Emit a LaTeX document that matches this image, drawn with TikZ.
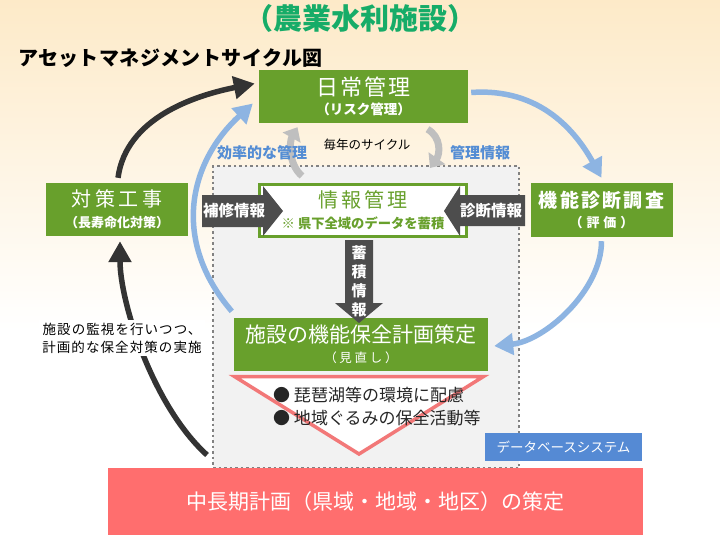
\documentclass[tikz,border=0pt]{standalone}
\usepackage{fontspec}
\setmainfont{Noto Sans CJK JP}
\usetikzlibrary{arrows.meta,calc}
\definecolor{boxgreen}{RGB}{104,160,44}
\definecolor{titlegreen}{RGB}{22,172,104}
\definecolor{arrowgray}{RGB}{77,77,77}
\definecolor{lineblue}{RGB}{141,180,226}
\definecolor{textblue}{RGB}{84,141,212}
\definecolor{dbblue}{RGB}{85,138,212}
\definecolor{bandred}{RGB}{255,110,110}
\definecolor{trired}{RGB}{242,120,120}
\definecolor{cyclegray}{RGB}{191,191,191}
\definecolor{darkline}{RGB}{51,51,51}
\definecolor{regionfill}{RGB}{242,242,242}
\definecolor{dotgray}{RGB}{130,130,130}
\definecolor{bgtop}{RGB}{253,234,200}
\newcommand\fsz[2]{\fontsize{#1}{#2}\selectfont}
\newcommand\ls[1]{\addfontfeatures{LetterSpace=#1}}
\tikzset{greenbox/.style={fill=boxgreen,text=white,inner sep=0pt,align=center}}
\tikzset{arrowtext/.style={text=white,font=\bfseries\fsz{15.5}{19},inner sep=0pt,align=center}}
\tikzset{bluelabel/.style={text=textblue,inner sep=0pt,font=\bfseries\fsz{15}{15}}}
\tikzset{bluearc/.style={line width=5.5pt,draw=lineblue,-{Triangle[width=21pt,length=19pt]}}}
\tikzset{blackarc/.style={line width=5.5pt,draw=darkline,-{Triangle[width=22pt,length=21pt]}}}
\tikzset{grayarc/.style={line width=7pt,draw=cyclegray,-{Triangle[width=20pt,length=12pt]}}}

\begin{document}
\begin{tikzpicture}[x=1pt,y=-1pt]
	\useasboundingbox (0,0) rectangle (720,544);
	\fill[white] (0,0) rectangle (720,544);
	\shade[top color=bgtop,bottom color=white] (0,0) rectangle (720,330);

	\node[text=titlegreen,font=\bfseries\fsz{29}{29}] (title) at (360,18) {（農業水利施設）};
	\node[anchor=west,inner sep=0pt,font=\bfseries\fsz{20}{20}\ls{2}] (cyclettl) at (18,58) {アセットマネジメントサイクル図};

	% database area
	\node[fill=regionfill,draw=dotgray,line width=2.5pt,dash pattern=on 2.5pt off 3pt,minimum width=306pt,minimum height=302pt] (dbarea) at (366,317) {};

	\node[greenbox,minimum width=209pt,minimum height=53pt,font=\fsz{13}{18.6}] (nichijo) at (363.5,96.5)
		{{\fsz{22}{22}\ls{9}日常管理}\\{\bfseries\fsz{13.5}{13.5}（リスク管理）}};
	\node[greenbox,minimum width=142pt,minimum height=53pt,font=\fsz{13}{21}] (taisaku) at (117,209.5)
		{{\fsz{20}{20}\ls{18}対策工事}\\{\bfseries\fsz{13}{13}（長寿命化対策）}};
	\node[greenbox,minimum width=142pt,minimum height=54pt,font=\fsz{13}{20.7}] (kino) at (601.5,210)
		{{\bfseries\fsz{19}{19}\ls{12}機能診断調査}\\{\bfseries\fsz{13}{13}\ls{30}（評価）}};
	\node[fill=white,draw=boxgreen,line width=3pt,text=boxgreen,inner sep=0pt,align=center,
		minimum width=207pt,minimum height=52pt,font=\fsz{13}{21.3}] (joho) at (363,210.5)
		{{\fsz{20}{20}\ls{15}情報管理}\\{\bfseries\fsz{13.3}{13.3}※ 県下全域のデータを蓄積}};
	\node[greenbox,minimum width=254pt,minimum height=53pt,font=\fsz{12}{19.6}] (keikaku) at (361,344)
		{{\fsz{21}{21}施設の機能保全計画策定}\\{\fsz{12.5}{12.5}\ls{22}（見直し）}};

	% inverted triangle
	\coordinate (tritip) at (359,454);
	\draw[line width=3.5pt,draw=trired,fill=white] ([xshift=1pt,yshift=-6pt]keikaku.south west)
		-- ([xshift=-5pt,yshift=-6pt]keikaku.south east) -- (tritip) -- cycle;
	\node[anchor=west,align=left,inner sep=0pt,text=black!85,font=\fsz{17}{23}] (bullets) at (273,406.5)
		{● 琵琶湖等の環境に配慮\\● 地域ぐるみの保全活動等};

	% block arrows
	\fill[arrowgray] (202,195) -- (263,195) -- (263,186) -- (283,211) -- (263,236) -- (263,227) -- (202,227) -- cycle;
	\node[arrowtext] (hoshu) at (234,211) {補修情報};
	\fill[arrowgray] (525,195) -- (460,195) -- (460,186) -- (444,211) -- (460,236) -- (460,226) -- (525,226) -- cycle;
	\node[arrowtext] (shindan) at (491,211) {診断情報};
	\fill[arrowgray] (345,240) -- (373,240) -- (373,303) -- (383,303) -- (359,323) -- (335,303) -- (345,303) -- cycle;
	\node[arrowtext,font=\bfseries\fsz{15}{19}] (chikuseki) at (359,281.5) {蓄\\積\\情\\報};

	\node[fill=bandred,text=white,inner sep=0pt,minimum width=535pt,minimum height=67pt,font=\fsz{21}{21}] (plan) at (375.5,501.5)
		{中長期計画（県域・地域・地区）の策定\hspace{14pt}};
	\node[fill=dbblue,text=white,inner sep=0pt,minimum width=157pt,minimum height=28pt,font=\fsz{13.5}{13.5}] (db) at (563.5,447)
		{データベースシステム};

	% yearly cycle
	\draw[grayarc] ([xshift=-61pt,yshift=7pt]joho.north) .. controls +(-14,-12) and +(-8,14) .. ([xshift=-66pt,yshift=-4pt]nichijo.south);
	\draw[grayarc] ([xshift=64pt,yshift=-6pt]nichijo.south) .. controls +(14,8) and +(10,-14) .. ([xshift=67pt,yshift=15pt]joho.north);
	\node[inner sep=0pt,font=\fsz{12.5}{12.5}] (maitoshi) at (367,145) {毎年のサイクル};
	\node[bluelabel] (koritsu) at (262,153) {効率的な管理};
	\node[bluelabel] (kanrijoho) at (480,153) {管理情報};

	% outer cycle
	\draw[bluearc] ([xshift=3pt,yshift=4pt]nichijo.east) .. controls +(70,-5) and +(-25,-45) .. ([yshift=5pt]kino.north);
	\draw[bluearc] ([yshift=-4pt]kino.south) .. controls +(0,50) and +(50,-5) .. ([xshift=6pt,yshift=-2pt]keikaku.east);
	\draw[bluearc] ([xshift=-2pt,yshift=6pt]keikaku.north west) .. controls +(-60,-70) and +(-65,60) .. ([xshift=-6pt,yshift=-7pt]nichijo.west);
	\draw[blackarc] ([xshift=1pt,yshift=5pt]taisaku.north) .. controls +(8,-60) and +(-60,12) .. ([xshift=-4pt,yshift=13pt]nichijo.west);
	\coordinate (loopstart) at (207,455);
	\draw[blackarc] (loopstart) .. controls +(-55,-50) and +(0,60) .. ([xshift=3pt,yshift=-5pt]taisaku.south);
	\node[fill=white,inner sep=3pt,align=center,font=\fsz{13.5}{18}\ls{8}] (kanshi) at (122,338)
		{施設の監視を行いつつ、\\計画的な保全対策の実施};
\end{tikzpicture}
\end{document}
